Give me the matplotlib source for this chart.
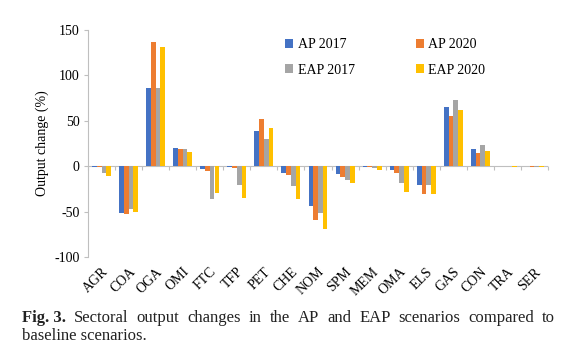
import matplotlib
matplotlib.use("Agg")
import matplotlib.pyplot as plt
import numpy as np

categories = ["AGR", "COA", "OGA", "OMI", "FTC", "TFP", "PET", "CHE",
              "NOM", "SPM", "MEM", "OMA", "ELS", "GAS", "CON", "TRA", "SER"]
series_names = ["AP 2017", "AP 2020", "EAP 2017", "EAP 2020"]
ap2017 = [-1, -51.5, 86, 20, -2.6, -1, 39, -7, -43.4, -9, -1, -4, -20.6, 64.7, 18.4, -0.3, -0.3]
ap2020 = [-1, -53, 137, 18.4, -4.8, -2, 52, -9.6, -59.6, -12, -1, -7.4, -30.5, 55.5, 15, -0.3, -0.5]
eap2017 = [-7.7, -47, 86, 18.4, -36, -20.6, 29.8, -21.7, -52, -14.7, -1.5, -18.4, -20.6, 72.4, 22.8, -0.3, -0.5]
eap2020 = [-11, -50.7, 131.6, 15.4, -30, -35, 42, -36, -69, -19, -3.7, -28.7, -30.5, 61.4, 16.5, -0.5, -0.8]
yticks = [-100, -50, 0, 50, 100, 150]
caption_bold = "Fig. 3."
caption_line1 = "Sectoral output changes in the AP and EAP scenarios compared to"
caption_line2 = "baseline scenarios."

colors = ["#4472C4", "#ED7D31", "#A5A5A5", "#FFC000"]
series = [ap2017, ap2020, eap2017, eap2020]

plt.rcParams["font.family"] = ["Liberation Serif", "DejaVu Serif"]

fig = plt.figure(figsize=(5.66, 3.52), dpi=100)
ax = fig.add_axes([88 / 566, 1 - 257 / 352, 460 / 566, 227 / 352])

n = len(categories)
x = np.arange(n)
w = 0.175
handles = []
for k, (vals, c, name) in enumerate(zip(series, colors, series_names)):
    b = ax.bar(x + (k - 1.5) * w, vals, width=w, color=c, label=name, zorder=2)
    handles.append(b)

ax.set_xlim(-0.5, n - 0.5)
ax.set_ylim(-100, 150)
ax.set_yticks(yticks)
ax.set_yticklabels([str(t) for t in yticks], fontsize=10)
ax.tick_params(axis="y", length=3, color="#BFBFBF", pad=3)
for s in ["top", "right", "bottom"]:
    ax.spines[s].set_visible(False)
ax.spines["left"].set_color("#BFBFBF")

ax.set_xticks(x)
ax.set_xticklabels(categories, rotation=45, ha="right", va="top",
                   rotation_mode="anchor", fontsize=10)
ax.tick_params(axis="x", length=0, pad=6)

ax.axhline(0, color="#BFBFBF", lw=0.8, zorder=1)
sec = ax.secondary_xaxis(0.4)
sec.set_xticks(np.arange(n + 1) - 0.5)
sec.set_xticklabels([])
sec.tick_params(length=3, color="#BFBFBF")
sec.spines["bottom"].set_visible(False)

ax.set_ylabel("Output change (%)", fontsize=10, labelpad=4)

order = [0, 2, 1, 3]
leg = fig.legend(handles=[handles[i] for i in order],
                 labels=[series_names[i] for i in order], ncol=2,
                 loc="upper left", bbox_to_anchor=(285 / 566, 1 - 38 / 352),
                 frameon=False, fontsize=10, handlelength=0.6, handleheight=0.6,
                 handletextpad=0.3, columnspacing=4.4, labelspacing=0.9,
                 borderpad=0, borderaxespad=0)

# caption, first line justified between x=22 and x=555
fs = 12
tc = "#222222"
fig.canvas.draw()
r = fig.canvas.get_renderer()
y1 = 1 - 318 / 352
y2 = 1 - 336 / 352
words = [(caption_bold, "bold")] + [(wd, "normal") for wd in caption_line1.split()]
arts = []
total = 0
for wd, fw in words:
    t = fig.text(0, y1, wd, fontsize=fs, fontweight=fw, va="center", ha="left", color=tc)
    bb = t.get_window_extent(renderer=r)
    arts.append((t, bb.width))
    total += bb.width
left, right = 22, 555
gap = (right - left - total) / (len(arts) - 1)
xpos = left
for t, wdt in arts:
    t.set_x(xpos / 566)
    xpos += wdt + gap
fig.text(22 / 566, y2, caption_line2, fontsize=fs, va="center", ha="left", color=tc)

fig.savefig("out.png", dpi=100)
